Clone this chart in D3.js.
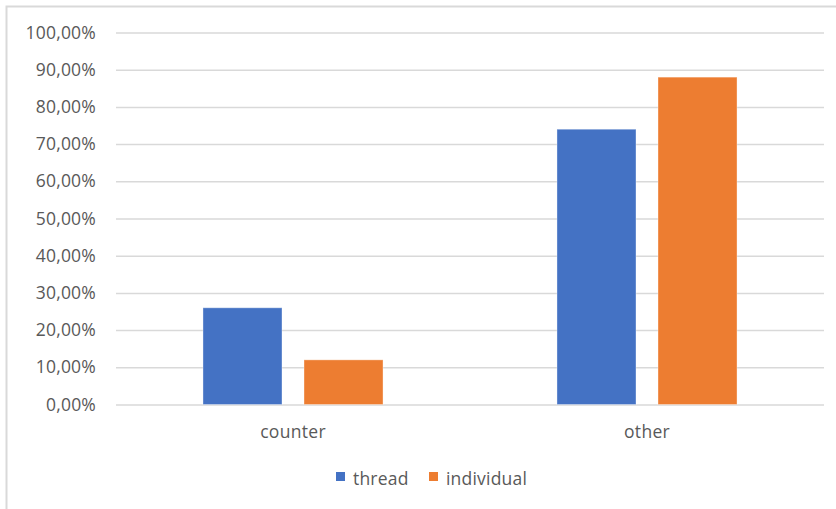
<!DOCTYPE html>
<html>
<head>
<meta charset="utf-8">
<script src="https://cdn.jsdelivr.net/npm/d3@7"></script>
<style>
  html, body { margin: 0; padding: 0; background: #fff; }
  svg { display: block; }
  text { font-family: "Open Sans", "Liberation Sans", sans-serif; fill: #595959; }
</style>
</head>
<body>
<svg id="chart" width="836" height="509"></svg>
<script>
// Share of each message kind, by grouping
const categories = ["counter", "other"];
const seriesNames = ["thread", "individual"];
const threadValues = [0.26, 0.74];
const individualValues = [0.12, 0.88];
const yTicks = [0, 0.1, 0.2, 0.3, 0.4, 0.5, 0.6, 0.7, 0.8, 0.9, 1.0];
const colors = ["#4472C4", "#ED7D31"];

const rows = categories.map((c, i) => ({
  category: c,
  values: [
    { series: seriesNames[0], value: threadValues[i] },
    { series: seriesNames[1], value: individualValues[i] }
  ]
}));

const svg = d3.select("#chart");
const W = 836, H = 509;
const margin = { left: 116, right: 12, top: 32.5, bottom: 104.5 };
const plotW = W - margin.left - margin.right;
const plotH = H - margin.top - margin.bottom;
const FONT = '"Open Sans", "Liberation Sans", sans-serif';
const FS = 17.5;

// Chart area frame
svg.append("rect")
  .attr("x", 6.5).attr("y", 6.5)
  .attr("width", W + 20).attr("height", H + 20)
  .attr("fill", "none").attr("stroke", "#D9D9D9").attr("stroke-width", 2);

const g = svg.append("g").attr("transform", `translate(${margin.left},${margin.top})`);

const x0 = d3.scaleBand().domain(categories).range([0, plotW]).paddingInner(0).paddingOuter(0);
const x1 = d3.scaleBand().domain(seriesNames).range([0, x0.bandwidth()]).paddingInner(0.218).paddingOuter(0.861);
const y = d3.scaleLinear().domain([0, 1]).range([plotH, 0]);
const color = d3.scaleOrdinal().domain(seriesNames).range(colors);

const fmt = v => d3.format(".2f")(v * 100).replace(".", ",") + "%";

// Gridlines and value labels
const yAxis = d3.axisLeft(y).tickValues(yTicks).tickSize(-plotW).tickPadding(20).tickFormat(fmt);
const ya = g.append("g").call(yAxis);
ya.select(".domain").remove();
ya.selectAll(".tick line").attr("stroke", "#D9D9D9").attr("stroke-width", 1.5);
ya.selectAll(".tick text").attr("font-size", FS).attr("letter-spacing", 0.2).style("fill", "#595959")
  .style("font-family", FONT);

// Bars
const groups = g.selectAll(".cat").data(rows).join("g")
  .attr("class", "cat")
  .attr("transform", d => `translate(${x0(d.category)},0)`);
groups.selectAll("rect").data(d => d.values).join("rect")
  .attr("x", d => x1(d.series))
  .attr("width", x1.bandwidth())
  .attr("y", d => y(d.value))
  .attr("height", d => y(0) - y(d.value))
  .attr("fill", d => color(d.series))
  .attr("stroke", "rgba(255,255,255,0.35)")
  .attr("stroke-width", 1);

// Category axis
const xAxis = d3.axisBottom(x0).tickSize(0).tickPadding(21);
const xa = g.append("g").attr("transform", `translate(0,${plotH})`).call(xAxis);
xa.select(".domain").remove();
xa.selectAll(".tick text").attr("font-size", FS).attr("letter-spacing", 0.3).style("fill", "#595959")
  .style("font-family", FONT);

// Legend
const legend = svg.append("g").attr("transform", "translate(336,472)");
const items = [{ name: seriesNames[0], x: 0 }, { name: seriesNames[1], x: 93 }];
const li = legend.selectAll("g").data(items).join("g").attr("transform", d => `translate(${d.x},0)`);
li.append("rect").attr("width", 9).attr("height", 9).attr("fill", d => color(d.name));
li.append("text").attr("x", 17).attr("y", 12.5).attr("font-size", FS).attr("letter-spacing", 0.2).text(d => d.name);
</script>
</body>
</html>
